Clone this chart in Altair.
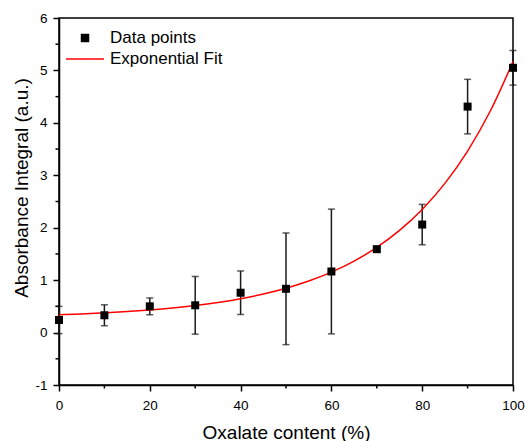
import altair as alt
import pandas as pd

# Measured absorbance integrals vs. oxalate content
oxalate = [0, 10, 20, 30, 40, 50, 60, 70, 80, 90, 100]
absorbance = [0.24, 0.33, 0.50, 0.52, 0.76, 0.835, 1.165, 1.59, 2.06, 4.31, 5.05]
error = [0.26, 0.20, 0.16, 0.55, 0.415, 1.065, 1.19, 0.05, 0.385, 0.52, 0.33]

# Exponential fit curve sampled every 5 %
fit_x = [0, 5, 10, 15, 20, 25, 30, 35, 40, 45, 50,
         55, 60, 65, 70, 75, 80, 85, 90, 95, 100]
fit_y = [0.340, 0.356, 0.376, 0.400, 0.431, 0.469, 0.516, 0.574, 0.646, 0.735, 0.846,
         0.983, 1.153, 1.364, 1.624, 1.948, 2.349, 2.846, 3.462, 4.226, 5.171]

# Minor tick positions
y_minor = [-0.5, 0.5, 1.5, 2.5, 3.5, 4.5, 5.5]
x_minor = [10, 30, 50, 70, 90]

legend_labels = ["Data points", "Exponential Fit"]

FONT = "Liberation Sans"
W, H = 454, 367

pts = pd.DataFrame({"x": oxalate, "y": absorbance, "err": error})
pts["lo"] = pts["y"] - pts["err"]
pts["hi"] = pts["y"] + pts["err"]
fit = pd.DataFrame({"x": fit_x, "y": fit_y})

xscale = alt.Scale(domain=[0, 100], nice=False, zero=False)
yscale = alt.Scale(domain=[-1, 6], nice=False, zero=False)

xaxis = alt.Axis(values=[0, 20, 40, 60, 80, 100], title="Oxalate content (%)",
                 labelExpr="datum.value + ''",
                 tickSize=6, labelPadding=7, titleFontSize=19, titleFontWeight="normal",
                 titleY=53, titleBaseline="alphabetic", labelFontSize=13.5,
                 labelFlush=False, labelOverlap=False)
yaxis = alt.Axis(values=[-1, 0, 1, 2, 3, 4, 5, 6], title="Absorbance Integral (a.u.)",
                 labelExpr="datum.value + ''", tickSize=6, labelPadding=6,
                 titleFontSize=19, titleFontWeight="normal", titleX=-32, titleY=169.5,
                 titleBaseline="alphabetic", titleAngle=-90, labelFontSize=13.5,
                 labelFlush=False, labelOverlap=False)

bars = alt.Chart(pts).mark_rule(color="#1a1a1a", strokeWidth=1.5).encode(
    x=alt.X("x:Q", scale=xscale, axis=xaxis),
    y=alt.Y("lo:Q", scale=yscale, axis=yaxis),
    y2="hi:Q",
)
caps_lo = alt.Chart(pts).mark_tick(color="#1a1a1a", orient="horizontal",
                                   size=7, thickness=1.5).encode(
    x=alt.X("x:Q", scale=xscale), y=alt.Y("lo:Q", scale=yscale))
caps_hi = alt.Chart(pts).mark_tick(color="#1a1a1a", orient="horizontal",
                                   size=7, thickness=1.5).encode(
    x=alt.X("x:Q", scale=xscale), y=alt.Y("hi:Q", scale=yscale))

curve = alt.Chart(fit).mark_line(color="#ff0000", strokeWidth=1.5,
                                 interpolate="monotone").encode(
    x=alt.X("x:Q", scale=xscale), y=alt.Y("y:Q", scale=yscale))

points = alt.Chart(pts).mark_square(color="black", size=64, opacity=1).encode(
    x=alt.X("x:Q", scale=xscale), y=alt.Y("y:Q", scale=yscale))

# minor ticks on both axes
ymin = alt.Chart(pd.DataFrame({"v": y_minor})).mark_rule(
    color="black", strokeWidth=1.5).encode(
    y=alt.Y("v:Q", scale=yscale), x=alt.value(-3.5), x2=alt.value(0))
xmin = alt.Chart(pd.DataFrame({"v": x_minor})).mark_rule(
    color="black", strokeWidth=1.5).encode(
    x=alt.X("v:Q", scale=xscale), y=alt.value(H), y2=alt.value(H + 3.5))

# legend
leg = pd.DataFrame({"label": legend_labels})
leg_sq = alt.Chart(leg.iloc[[0]]).mark_square(color="black", size=72, opacity=1).encode(
    x=alt.value(26), y=alt.value(20))
leg_line = alt.Chart(leg.iloc[[1]]).mark_rule(color="#ff0000", strokeWidth=1.5).encode(
    x=alt.value(7), x2=alt.value(45), y=alt.value(41))
leg_txt1 = alt.Chart(leg.iloc[[0]]).mark_text(
    align="left", baseline="middle", font=FONT, fontSize=17, color="black").encode(
    x=alt.value(51), y=alt.value(20), text="label:N")
leg_txt2 = alt.Chart(leg.iloc[[1]]).mark_text(
    align="left", baseline="middle", font=FONT, fontSize=17, color="black").encode(
    x=alt.value(51), y=alt.value(41), text="label:N")

chart = alt.layer(
    bars, caps_lo, caps_hi, curve, points, ymin, xmin,
    leg_sq, leg_line, leg_txt1, leg_txt2
).properties(
    width=W, height=H,
    autosize="none",
    padding={"left": 59, "top": 18, "right": 12, "bottom": 56},
    background="white",
).configure_view(
    stroke="black", strokeWidth=1.5
).configure_axis(
    grid=False, domainColor="black", domainWidth=1.5, tickColor="black",
    tickWidth=1.5, labelColor="black", titleColor="black",
    labelFont=FONT, titleFont=FONT,
)

chart.save("out.html", embed_options={"renderer": "svg", "actions": False})
